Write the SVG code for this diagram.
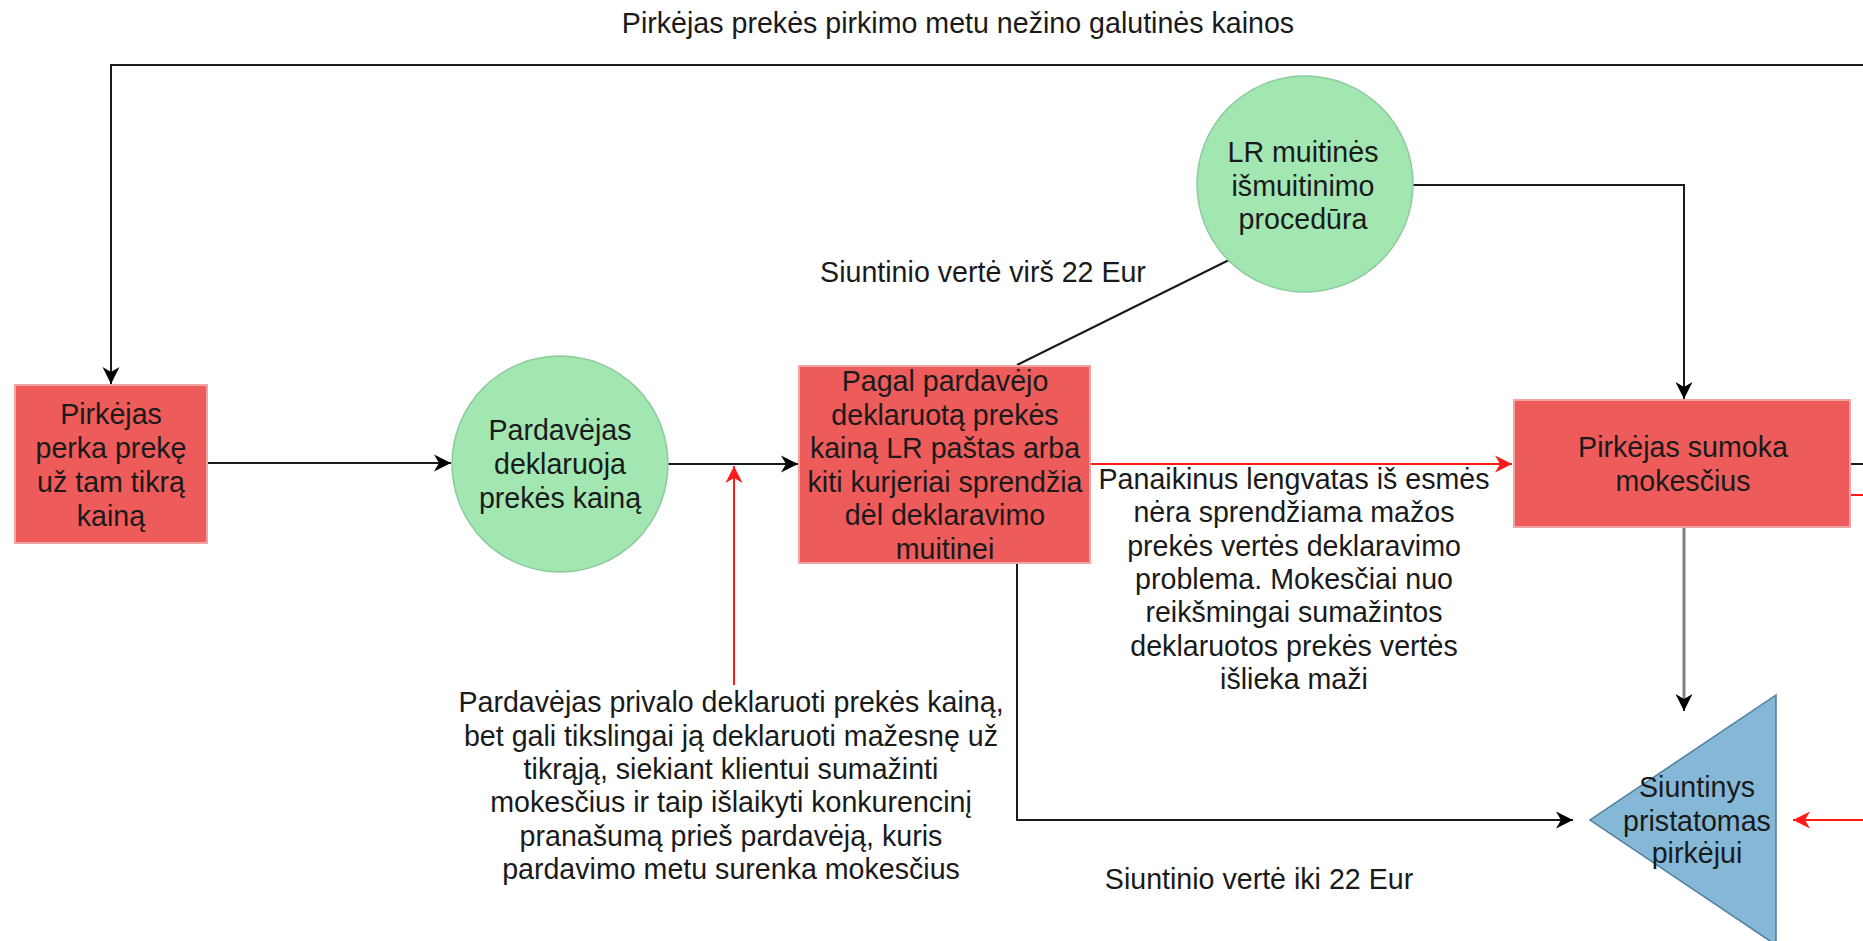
<svg xmlns="http://www.w3.org/2000/svg" width="1863" height="941" viewBox="0 0 1863 941">
<style>
text{font-family:"Liberation Sans",Arial,Helvetica,sans-serif;font-size:28.6px;fill:#1a1a1a;text-anchor:middle}
.red{fill:#ED5B5B;stroke:#F2A3A3;stroke-width:2}
.green{fill:#A2E6B2;stroke:#8CCB9C;stroke-width:1.5}
.blue{fill:#84B8D6;stroke:#4D7C9C;stroke-width:1.5}
.c{fill:none;stroke:#1a1a1a;stroke-width:2}
.cr{fill:none;stroke:#FF1A1A;stroke-width:2}
.cg{fill:none;stroke:#808080;stroke-width:3}
</style>
<defs>
<marker id="ab" viewBox="-18 -10 20 20" refX="0" refY="0" markerWidth="20" markerHeight="20" markerUnits="userSpaceOnUse" orient="auto">
<path d="M0,0 L-17,-8.5 L-12,0 L-17,8.5 Z" fill="#000"/>
</marker>
<marker id="ar" viewBox="-18 -10 20 20" refX="0" refY="0" markerWidth="20" markerHeight="20" markerUnits="userSpaceOnUse" orient="auto">
<path d="M0,0 L-17,-8.5 L-12,0 L-17,8.5 Z" fill="#FF1A1A"/>
</marker>
</defs>
<rect width="1863" height="941" fill="#fff"/>

<g id="connectors">
<path class="c" d="M1863,65 L111,65 L111,384" stroke="#333" marker-end="url(#ab)"/>
<path class="c" d="M207,463 L451,463" marker-end="url(#ab)"/>
<path class="c" d="M668,464 L798,464" marker-end="url(#ab)"/>
<path class="cr" d="M734,685 L734,466" marker-end="url(#ar)"/>
<path class="c" d="M1017,365 L1229,260"/>
<path class="c" d="M1413,185 L1684,185 L1684,399" marker-end="url(#ab)"/>
<path class="cr" d="M1090,464 L1512,464" marker-end="url(#ar)"/>
<path class="cg" d="M1684,527 L1684,708"/>
<path class="c" d="M1684,700 L1684,711" marker-end="url(#ab)"/>
<path class="c" d="M1017,563 L1017,820 L1573,820" marker-end="url(#ab)"/>
<path class="c" d="M1850,464 L1863,464"/>
<path class="cr" d="M1850,495 L1863,495"/>
<path class="cr" d="M1863,820 L1793,820" marker-end="url(#ar)"/>
</g>

<g id="label-top">
<text x="958" y="33">Pirkėjas prekės pirkimo metu nežino galutinės kainos</text>
</g>

<g id="node-pirkejas-perka">
<rect class="red" x="15" y="385" width="192" height="158"/>
<text x="111" y="424">Pirkėjas</text>
<text x="111" y="458">perka prekę</text>
<text x="111" y="492">už tam tikrą</text>
<text x="111" y="526">kainą</text>
</g>

<g id="node-pardavejas">
<circle class="green" cx="560" cy="464" r="108"/>
<text x="560" y="440">Pardavėjas</text>
<text x="560" y="474">deklaruoja</text>
<text x="560" y="508">prekės kainą</text>
</g>

<g id="node-pagal">
<rect class="red" x="799" y="366" width="291" height="197"/>
<text x="945" y="391">Pagal pardavėjo</text>
<text x="945" y="424.5">deklaruotą prekės</text>
<text x="945" y="458">kainą LR paštas arba</text>
<text x="945" y="491.5">kiti kurjeriai sprendžia</text>
<text x="945" y="525">dėl deklaravimo</text>
<text x="945" y="558.5">muitinei</text>
</g>

<g id="node-lr-muitine">
<circle class="green" cx="1305" cy="184" r="108"/>
<text x="1303" y="162">LR muitinės</text>
<text x="1303" y="196">išmuitinimo</text>
<text x="1303" y="229">procedūra</text>
</g>

<g id="node-sumoka">
<rect class="red" x="1514" y="400" width="336" height="127"/>
<text x="1683" y="457">Pirkėjas sumoka</text>
<text x="1683" y="491">mokesčius</text>
</g>

<g id="node-siuntinys">
<path class="blue" d="M1776,695 L1590,820 L1776,945 Z"/>
<text x="1697" y="797">Siuntinys</text>
<text x="1697" y="831">pristatomas</text>
<text x="1697" y="863">pirkėjui</text>
</g>

<g id="label-virs">
<text x="983" y="282">Siuntinio vertė virš 22 Eur</text>
</g>

<g id="label-iki">
<text x="1259" y="889">Siuntinio vertė iki 22 Eur</text>
</g>

<g id="label-panaikinus">
<text x="1294" y="489">Panaikinus lengvatas iš esmės</text>
<text x="1294" y="522">nėra sprendžiama mažos</text>
<text x="1294" y="556">prekės vertės deklaravimo</text>
<text x="1294" y="589">problema. Mokesčiai nuo</text>
<text x="1294" y="622">reikšmingai sumažintos</text>
<text x="1294" y="656">deklaruotos prekės vertės</text>
<text x="1294" y="689">išlieka maži</text>
</g>

<g id="label-privalo">
<text x="731" y="712">Pardavėjas privalo deklaruoti prekės kainą,</text>
<text x="731" y="746">bet gali tikslingai ją deklaruoti mažesnę už</text>
<text x="731" y="779">tikrąją, siekiant klientui sumažinti</text>
<text x="731" y="812">mokesčius ir taip išlaikyti konkurencinį</text>
<text x="731" y="846">pranašumą prieš pardavėją, kuris</text>
<text x="731" y="879">pardavimo metu surenka mokesčius</text>
</g>
</svg>
